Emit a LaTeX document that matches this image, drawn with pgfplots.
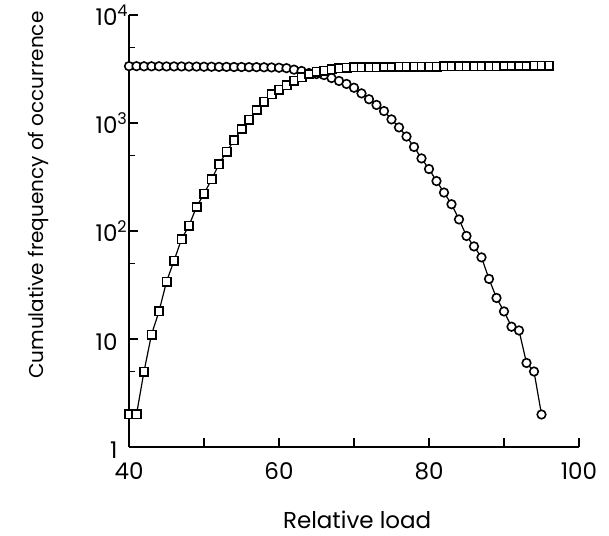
\documentclass[border=0pt]{standalone}
\usepackage{fontspec}
\setmainfont{Poppins}
\usepackage{pgfplots}
\pgfplotsset{compat=1.18}
\pgfplotstableread{
L v
40 3360
41 3360
42 3350
43 3350
44 3350
45 3340
46 3340
47 3340
48 3330
49 3330
50 3320
51 3320
52 3310
53 3310
54 3300
55 3300
56 3290
57 3290
58 3280
59 3270
60 3250
61 3220
62 3120
63 3030
64 2900
65 2840
66 2780
67 2610
68 2450
69 2300
70 2120
71 1880
72 1660
73 1470
74 1290
75 1080
76 910
77 750
78 600
79 470
80 375
81 290
82 227
83 177
84 128
85 90
86 72
87 57
88 36
89 24
90 18
91 13
92 12
93 6
94 5
95 2
}\circles
\pgfplotstableread{
L v
40 2
41 2
42 5
43 11
44 18
45 34
46 53
47 84
48 112
49 167
50 221
51 300
52 415
53 540
54 690
55 880
56 1070
57 1320
58 1570
59 1850
60 2030
61 2230
62 2460
63 2640
64 2840
65 2985
66 3050
67 3140
68 3210
69 3250
70 3270
71 3280
72 3290
73 3290
74 3300
75 3300
76 3310
77 3310
78 3320
79 3320
80 3330
81 3330
82 3340
83 3340
84 3350
85 3350
86 3350
87 3360
88 3360
89 3360
90 3370
91 3370
92 3370
93 3370
94 3380
95 3380
96 3380
}\squares
\begin{document}
\begin{tikzpicture}
\begin{axis}[
  scale only axis, width=450pt, height=432pt,
  xmin=40, xmax=100, ymin=1, ymax=10000, ymode=log,
  axis lines*=left, axis line style={-, line width=1.4pt},
  xtick={40,50,60,70,80,90,100}, xticklabels={40,,60,,80,,100},
  ytick={1,10,100,1000,10000},
  yticklabels={1,10,10\rlap{\textsuperscript{2}},10\rlap{\textsuperscript{3}},10\rlap{\textsuperscript{4}}},
  minor ytick={5,50,500,5000},
  tick align=inside, major tick length=9pt, minor tick length=6pt,
  tick style={line width=1.2pt, black},
  ticklabel style={font=\fontsize{23}{27}\selectfont},
  xticklabel style={anchor=base, yshift=-32pt},
  yticklabel style={anchor=base east, yshift=-11pt, xshift=-8pt},
  xlabel={Relative load},
  xlabel style={font=\fontsize{23}{27}\selectfont, at={(axis description cs:0.507,-0.1875)}, anchor=base},
  ylabel={Cumulative frequency of occurrence},
  ylabel style={font=\fontsize{20}{24}\selectfont, at={(axis description cs:-0.171,0.583)}, anchor=south},
  clip=false,
]
\addplot[black, line width=1.2pt, mark=*, mark size=4.3pt,
  mark options={fill=white, draw=black, line width=1.6pt}] table[x=L, y=v] {\circles};
\addplot[black, line width=1.2pt, mark=square*, mark size=4.2pt,
  mark options={fill=white, draw=black, line width=1.6pt}] table[x=L, y=v] {\squares};
\end{axis}
\path (current axis.south west) ++(-129pt,-88pt) rectangle ++(609pt,535pt);
\end{tikzpicture}
\end{document}
